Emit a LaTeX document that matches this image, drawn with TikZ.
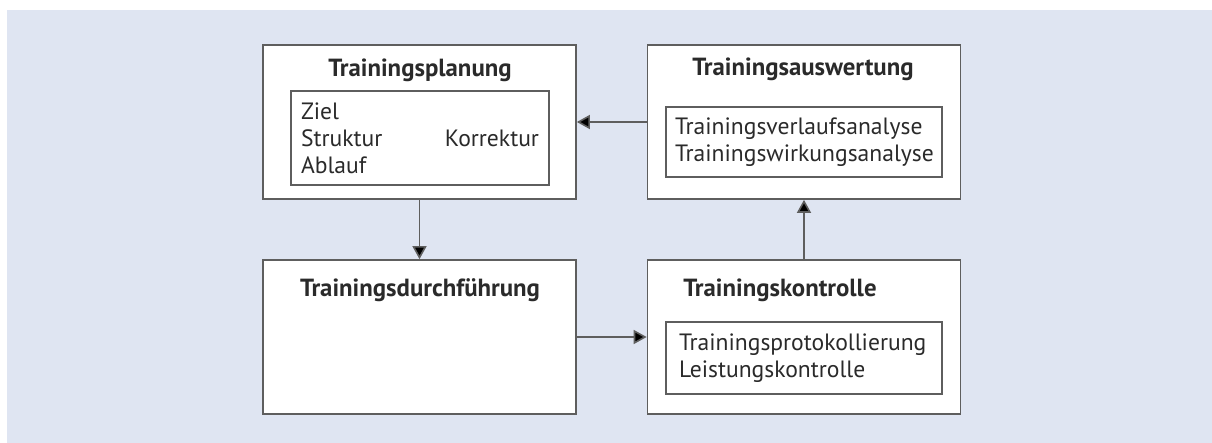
\documentclass[tikz,border=0pt]{standalone}
\usepackage{fontspec}
\setmainfont{PT Sans}
\usetikzlibrary{arrows.meta}
\definecolor{panel}{HTML}{DFE5F2}
\definecolor{rahmen}{HTML}{5E5E5E}
\definecolor{schrift}{HTML}{2A2A2A}

\begin{document}
\begin{tikzpicture}[x=0.5pt,y=-0.5pt,
    block/.style={draw=rahmen, fill=white, line width=0.85pt, minimum width=156.5pt, minimum height=77pt, inner sep=0pt},
    liste/.style={draw=rahmen, line width=0.65pt, align=left, text=schrift, font=\fontsize{11.8}{13.5}\selectfont, inner sep=4.5pt, text width=129pt, minimum height=35pt},
    titel/.style={font=\bfseries\fontsize{12.4}{14}\selectfont, text=schrift},
    pfeil/.style={draw=rahmen, line width=0.8pt, -{Triangle[length=6.5pt,width=7pt,fill=black]}}]
    \useasboundingbox (0,0) rectangle (1212,443);
    \fill[panel] (7,10) rectangle (1212,443);

    \node[block] (plan) at (419.5, 122) {};
    \node[block] (ausw) at (804, 122) {};
    \node[block] (durch) at (419.5, 337) {};
    \node[block] (kontr) at (804, 337) {};

    \node[titel] (planT) at (420, 70) {Trainingsplanung};
    \node[titel] (auswT) at (803, 69) {Trainingsauswertung};
    \node[titel] (durchT) at (420, 290) {Trainingsdurchführung};
    \node[titel] (kontrT) at (780, 290) {Trainingskontrolle};

    \node[liste, text width=119pt, inner sep=5pt, minimum height=47pt] (planL) at (420, 138) {Ziel\\Struktur\hfill Korrektur\\Ablauf};
    \node[liste] (auswL) at (804, 142) {Trainingsverlaufsanalyse\\Trainingswirkungsanalyse};
    \node[liste, inner xsep=6.5pt, text width=125pt, minimum height=36pt] (kontrL) at (804, 358) {Trainingsprotokollierung\\Leistungskontrolle};

    \draw[pfeil] (ausw.west) -- (ausw.west -| plan.east);
    \draw[pfeil] (plan.south) -- (durch.north);
    \draw[pfeil] (durch.east) -- (kontr.west);
    \draw[pfeil] (kontr.north) -- (ausw.south);
\end{tikzpicture}
\end{document}
